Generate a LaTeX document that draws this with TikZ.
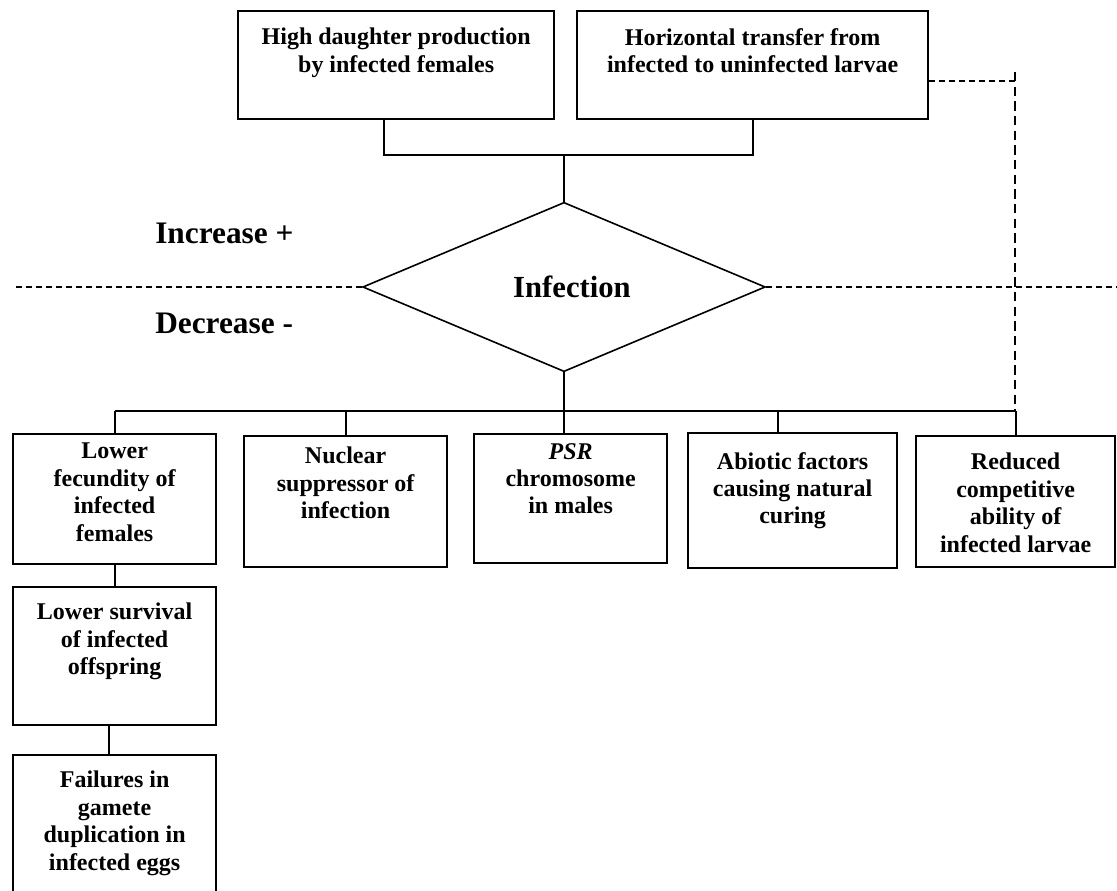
\documentclass[tikz,border=0pt]{standalone}
\usepackage{fontspec}
\setmainfont{Liberation Serif}
\usetikzlibrary{shapes.geometric}

% one pixel of the layout
\newlength\pxu
\setlength\pxu{0.75pt}
\newcommand\celltext[4]{\parbox[c][#2\pxu][t]{#1\pxu}{\centering\vspace*{#3\pxu}#4\par}}

\tikzset{
  cell/.style={draw, line width=1.7pt, inner sep=0pt, anchor=north west,
    font=\fontsize{18}{20.6}\selectfont\bfseries},
  link/.style={line width=1.6pt},
  split/.style={line width=1.2pt, dash pattern=on 4.5pt off 3pt},
  longsplit/.style={line width=1.2pt, dash pattern=on 7pt off 4pt},
  tag/.style={inner sep=0pt, anchor=base west, font=\fontsize{23.5}{28}\selectfont\bfseries},
}

\begin{document}
\begin{tikzpicture}[x=0.75pt,y=-0.75pt]
  \useasboundingbox (0,0) rectangle (1117,891);

  % rising side
  \node[cell] (hd) at (237,10) {\celltext{316}{108}{17}{High daughter production\\by infected females}};
  \node[cell] (ht) at (576,10) {\celltext{351}{108}{17}{Horizontal transfer from\\infected to uninfected larvae}};

  \node[draw, diamond, line width=1.2pt, inner sep=0pt, minimum width=302pt, minimum height=127pt,
    font=\fontsize{23}{28}\selectfont\bfseries] (inf) at (564,287) {\hspace*{12pt}Infection};

  \node[tag] (up) at (155,244) {Increase +};
  \node[tag] (down) at (155,334) {Decrease -};

  % falling side
  \node[cell] (lf) at (12,433) {\celltext{203}{130}{9}{Lower\\fecundity of\\infected\\females}};
  \node[cell] (ns) at (243,435) {\celltext{203}{131}{11}{Nuclear\\suppressor of\\infection}};
  \node[cell] (ps) at (473,433) {\celltext{193}{129}{9}{\textit{PSR}\\chromosome\\in males}};
  \node[cell] (ab) at (687,432) {\celltext{209}{135}{19}{Abiotic factors\\causing natural\\curing}};
  \node[cell] (rc) at (915,435) {\celltext{199}{131}{17}{Reduced\\competitive\\ability of\\infected larvae}};
  \node[cell] (sv) at (12,586) {\celltext{203}{138}{16}{Lower survival\\of infected\\offspring}};
  \node[cell] (fl) at (12,754) {\celltext{203}{141}{16}{Failures in\\gamete\\duplication in\\infected eggs}};

  \coordinate (join) at (564,155);
  \coordinate (hub) at (564,411);
  \coordinate (ctop) at (1015,72);
  \coordinate (lend) at (16,287);
  \coordinate (rend) at (1117,287);

  \draw[link] ([xshift=-9pt]hd.south) |- (join) -| (ht.south);
  \draw[link] (join) -- (inf.north);
  \draw[link] (inf.south) -- (hub);
  \draw[link] (lf.north |- hub) -- (rc.north |- hub);
  \foreach \b in {lf,ns,rc}
    \draw[link] (\b.north) -- (\b.north |- hub);
  \draw[link] (hub) -- (hub |- ps.north);
  \draw[link] ([xshift=-11pt]ab.north) -- ([xshift=-11pt]ab.north |- hub);
  \draw[link] (lf.south) -- (sv.north);
  \draw[link] ([xshift=-4pt]sv.south) -- ([xshift=-4pt]fl.north);

  \draw[split] (inf.west) -- (lend);
  \draw[split] (inf.east) -- (rend);
  \draw[split] ([yshift=-12pt]ht.east) -- ([yshift=-12pt]ht.east -| ctop);
  \draw[longsplit] (ctop) -- (ctop |- hub);
\end{tikzpicture}
\end{document}
